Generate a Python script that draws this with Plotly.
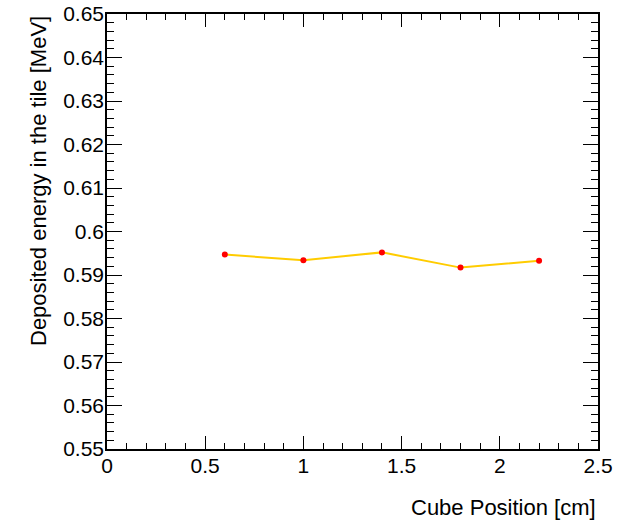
import plotly.graph_objects as go

# Deposited energy vs cube position
cube_position_cm = [0.6, 1.0, 1.4, 1.8, 2.2]
deposited_energy_mev = [0.5947, 0.5934, 0.5952, 0.5917, 0.5933]

x_title = "Cube Position [cm]"
y_title = "Deposited energy in the tile [MeV]"

font_family = "Liberation Sans, Arial, Helvetica, sans-serif"

fig = go.Figure()
fig.add_trace(go.Scatter(
    x=cube_position_cm,
    y=deposited_energy_mev,
    mode="lines+markers",
    line=dict(color="#FFCC00", width=2),
    marker=dict(color="#FF0000", size=6),
    showlegend=False,
))

axis_common = dict(
    automargin=False,
    showgrid=False,
    zeroline=False,
    showline=True,
    linecolor="black",
    linewidth=1.5,
    mirror="ticks",
    ticks="inside",
    tickcolor="black",
    tickwidth=1,
    tickfont=dict(family=font_family, size=21, color="black"),
)

fig.update_xaxes(
    range=[0, 2.5],
    dtick=0.5,
    tick0=0,
    ticklen=13,
    ticklabelstandoff=-3,
    minor=dict(ticks="inside", dtick=0.1, ticklen=6, tickcolor="black", tickwidth=1),
    **axis_common,
)
fig.update_yaxes(
    range=[0.55, 0.65],
    dtick=0.01,
    tick0=0.55,
    ticklen=15,
    tickformat="~g",
    ticklabelstandoff=-3,
    minor=dict(ticks="inside", dtick=0.002, ticklen=7, tickcolor="black", tickwidth=1),
    **axis_common,
)

fig.add_annotation(
    text=x_title, xref="paper", yref="paper", x=1, y=0,
    xanchor="right", yanchor="top", yshift=-44, showarrow=False,
    font=dict(family=font_family, size=22, color="black"),
)
fig.add_annotation(
    text=y_title, xref="paper", yref="paper", x=0, y=1,
    xanchor="center", yanchor="top", xshift=-69, textangle=-90, showarrow=False,
    font=dict(family=font_family, size=22, color="black"),
)

fig.update_layout(
    width=631,
    height=521,
    margin=dict(l=107, r=33, t=14, b=72, autoexpand=False),
    paper_bgcolor="white",
    plot_bgcolor="white",
)

fig.write_html("out.html")
